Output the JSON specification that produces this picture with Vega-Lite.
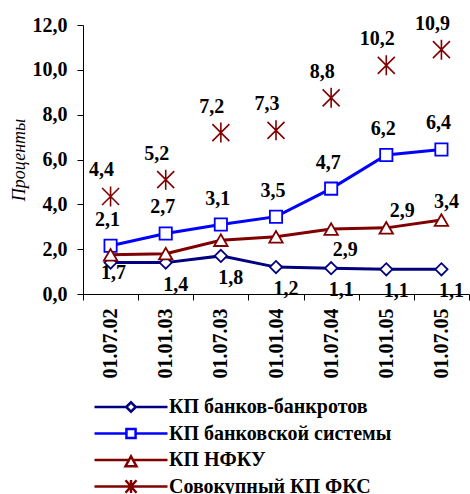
{
  "$schema": "https://vega.github.io/schema/vega-lite/v6.json",
  "autosize": "none",
  "width": 386,
  "height": 269,
  "padding": {"left": 83, "top": 25, "right": 1, "bottom": 200},
  "background": "white",
  "config": {
    "view": {"stroke": null},
    "font": "Liberation Serif"
  },
  "data": {
    "values": [
      {"date": "01.07.02", "series": "КП банков-банкротов", "value": 1.4, "label": "1,7"},
      {"date": "01.01.03", "series": "КП банков-банкротов", "value": 1.4, "label": "1,4"},
      {"date": "01.07.03", "series": "КП банков-банкротов", "value": 1.7, "label": "1,8"},
      {"date": "01.01.04", "series": "КП банков-банкротов", "value": 1.2, "label": "1,2"},
      {"date": "01.07.04", "series": "КП банков-банкротов", "value": 1.15, "label": "1,1"},
      {"date": "01.01.05", "series": "КП банков-банкротов", "value": 1.1, "label": "1,1"},
      {"date": "01.07.05", "series": "КП банков-банкротов", "value": 1.1, "label": "1,1"},
      {"date": "01.07.02", "series": "КП банковской системы", "value": 2.15, "label": "2,1"},
      {"date": "01.01.03", "series": "КП банковской системы", "value": 2.7, "label": "2,7"},
      {"date": "01.07.03", "series": "КП банковской системы", "value": 3.1, "label": "3,1"},
      {"date": "01.01.04", "series": "КП банковской системы", "value": 3.45, "label": "3,5"},
      {"date": "01.07.04", "series": "КП банковской системы", "value": 4.7, "label": "4,7"},
      {"date": "01.01.05", "series": "КП банковской системы", "value": 6.2, "label": "6,2"},
      {"date": "01.07.05", "series": "КП банковской системы", "value": 6.45, "label": "6,4"},
      {"date": "01.07.02", "series": "КП НФКУ", "value": 1.75, "label": ""},
      {"date": "01.01.03", "series": "КП НФКУ", "value": 1.8, "label": ""},
      {"date": "01.07.03", "series": "КП НФКУ", "value": 2.4, "label": ""},
      {"date": "01.01.04", "series": "КП НФКУ", "value": 2.55, "label": ""},
      {"date": "01.07.04", "series": "КП НФКУ", "value": 2.9, "label": "2,9"},
      {"date": "01.01.05", "series": "КП НФКУ", "value": 2.95, "label": "2,9"},
      {"date": "01.07.05", "series": "КП НФКУ", "value": 3.3, "label": "3,4"},
      {"date": "01.07.02", "series": "Совокупный КП ФКС", "value": 4.35, "label": "4,4"},
      {"date": "01.01.03", "series": "Совокупный КП ФКС", "value": 5.1, "label": "5,2"},
      {"date": "01.07.03", "series": "Совокупный КП ФКС", "value": 7.2, "label": "7,2"},
      {"date": "01.01.04", "series": "Совокупный КП ФКС", "value": 7.3, "label": "7,3"},
      {"date": "01.07.04", "series": "Совокупный КП ФКС", "value": 8.75, "label": "8,8"},
      {"date": "01.01.05", "series": "Совокупный КП ФКС", "value": 10.2, "label": "10,2"},
      {"date": "01.07.05", "series": "Совокупный КП ФКС", "value": 10.9, "label": "10,9"}
    ]
  },
  "encoding": {
    "x": {
      "field": "date", "type": "ordinal", "sort": null,
      "scale": {"type": "band", "paddingInner": 0, "paddingOuter": 0},
      "axis": {
        "title": null, "labelAngle": -90, "labelAlign": "right", "labelBaseline": "middle",
        "labelFont": "Liberation Serif", "labelFontWeight": "bold", "labelFontSize": 20, "labelColor": "black",
        "labelPadding": 8, "tickSize": 6, "tickColor": "black", "domainColor": "black", "tickBand": "extent",
        "grid": false
      }
    },
    "y": {
      "field": "value", "type": "quantitative",
      "scale": {"domain": [0, 12], "nice": false, "zero": true},
      "axis": {
        "title": "Проценты", "titleFont": "Liberation Serif", "titleFontStyle": "italic", "titleFontWeight": "normal",
        "titleFontSize": 18, "titleColor": "black", "titlePadding": 4,
        "values": [0, 2, 4, 6, 8, 10, 12],
        "labelExpr": "replace(format(datum.value, '.1f'), '.', ',')",
        "labelFont": "Liberation Serif", "labelFontWeight": "bold", "labelFontSize": 20, "labelColor": "black",
        "labelPadding": 10, "tickSize": 6, "tickColor": "black", "domainColor": "black", "grid": false
      }
    }
  },
  "layer": [
    {
      "transform": [{"filter": "datum.series !== 'Совокупный КП ФКС'"}],
      "mark": {"type": "line", "strokeWidth": 3},
      "encoding": {
        "color": {
          "field": "series", "type": "nominal",
          "scale": {
            "domain": ["КП банков-банкротов", "КП банковской системы", "КП НФКУ", "Совокупный КП ФКС"],
            "range": ["#000080", "#0000FF", "#800000", "#800000"]
          },
          "legend": {
            "orient": "none", "legendX": 10, "legendY": 372, "title": null,
            "symbolSize": 5329, "clipHeight": 20, "rowPadding": 6.5,
            "labelFont": "Liberation Serif", "labelFontWeight": "bold", "labelFontSize": 20, "labelColor": "black",
            "labelLimit": 400, "labelOffset": 0, "symbolStrokeWidth": 2.5, "symbolFillColor": "white", "symbolOpacity": 1,
            "encode": {
              "symbols": {
                "update": {
                  "shape": {"signal": "datum.value === 'КП банков-банкротов' ? 'M-1,0H-0.13M0.13,0H1M-0.13,0L0,-0.13L0.13,0L0,0.13Z' : datum.value === 'КП банковской системы' ? 'M-1,0H-0.125M0.125,0H1M-0.125,-0.125H0.125V0.125H-0.125Z' : datum.value === 'КП НФКУ' ? 'M-1,0H-0.055M0.055,0H1M0,-0.1L0.15,0.17H-0.15Z' : 'M-1,0H1M-0.15,-0.17L0.15,0.17M-0.15,0.17L0.15,-0.17M0,-0.18V0.18'"},
                  "size": {"value": 5329},
                  "fill": {"value": "white"},
                  "opacity": {"value": 1},
                  "strokeWidth": {"value": 2.5}
                }
              }
            }
          }
        }
      }
    },
    {
      "transform": [{"filter": "datum.series === 'КП банков-банкротов'"}],
      "mark": {"type": "point", "shape": "diamond", "size": 150, "filled": false, "fill": "white", "stroke": "#000080", "strokeWidth": 1.8, "opacity": 1}
    },
    {
      "transform": [{"filter": "datum.series === 'КП банковской системы'"}],
      "mark": {"type": "point", "shape": "square", "size": 150, "filled": false, "fill": "white", "stroke": "#0000FF", "strokeWidth": 1.8, "opacity": 1}
    },
    {
      "transform": [{"filter": "datum.series === 'КП НФКУ'"}],
      "mark": {"type": "point", "shape": "triangle-up", "size": 180, "filled": false, "fill": "white", "stroke": "#800000", "strokeWidth": 1.8, "opacity": 1}
    },
    {
      "transform": [{"filter": "datum.series === 'Совокупный КП ФКС'"}],
      "mark": {"type": "point", "shape": "M-0.85,-0.85L0.85,0.85M-0.85,0.85L0.85,-0.85M0,-1V1", "size": 400, "filled": false, "stroke": "#800000", "strokeWidth": 1.6, "opacity": 1}
    },
    {
      "transform": [{"filter": "datum.series === 'КП банковской системы'"}],
      "mark": {"type": "text", "font": "Liberation Serif", "fontWeight": "bold", "fontSize": 20, "color": "black", "dy": -26, "dx": -3},
      "encoding": {"text": {"field": "label"}}
    },
    {
      "transform": [{"filter": "datum.series === 'Совокупный КП ФКС'"}],
      "mark": {"type": "text", "font": "Liberation Serif", "fontWeight": "bold", "fontSize": 20, "color": "black", "dy": -26, "dx": -9},
      "encoding": {"text": {"field": "label"}}
    },
    {
      "transform": [{"filter": "datum.series === 'КП банков-банкротов' && datum.date !== '01.07.02'"}],
      "mark": {"type": "text", "font": "Liberation Serif", "fontWeight": "bold", "fontSize": 20, "color": "black", "dy": 22, "dx": 10},
      "encoding": {"text": {"field": "label"}}
    },
    {
      "transform": [{"filter": "datum.series === 'КП банков-банкротов' && datum.date === '01.07.02'"}],
      "mark": {"type": "text", "font": "Liberation Serif", "fontWeight": "bold", "fontSize": 20, "color": "black", "dy": 10, "dx": 3},
      "encoding": {"text": {"field": "label"}}
    },
    {
      "transform": [{"filter": "datum.series === 'КП НФКУ' && datum.date === '01.07.04'"}],
      "mark": {"type": "text", "font": "Liberation Serif", "fontWeight": "bold", "fontSize": 20, "color": "black", "dy": 21, "dx": 14},
      "encoding": {"text": {"field": "label"}}
    },
    {
      "transform": [{"filter": "datum.series === 'КП НФКУ' && datum.date === '01.01.05'"}],
      "mark": {"type": "text", "font": "Liberation Serif", "fontWeight": "bold", "fontSize": 20, "color": "black", "dy": -17, "dx": 16},
      "encoding": {"text": {"field": "label"}}
    },
    {
      "transform": [{"filter": "datum.series === 'КП НФКУ' && datum.date === '01.07.05'"}],
      "mark": {"type": "text", "font": "Liberation Serif", "fontWeight": "bold", "fontSize": 20, "color": "black", "dy": -18, "dx": 5},
      "encoding": {"text": {"field": "label"}}
    }
  ]
}
